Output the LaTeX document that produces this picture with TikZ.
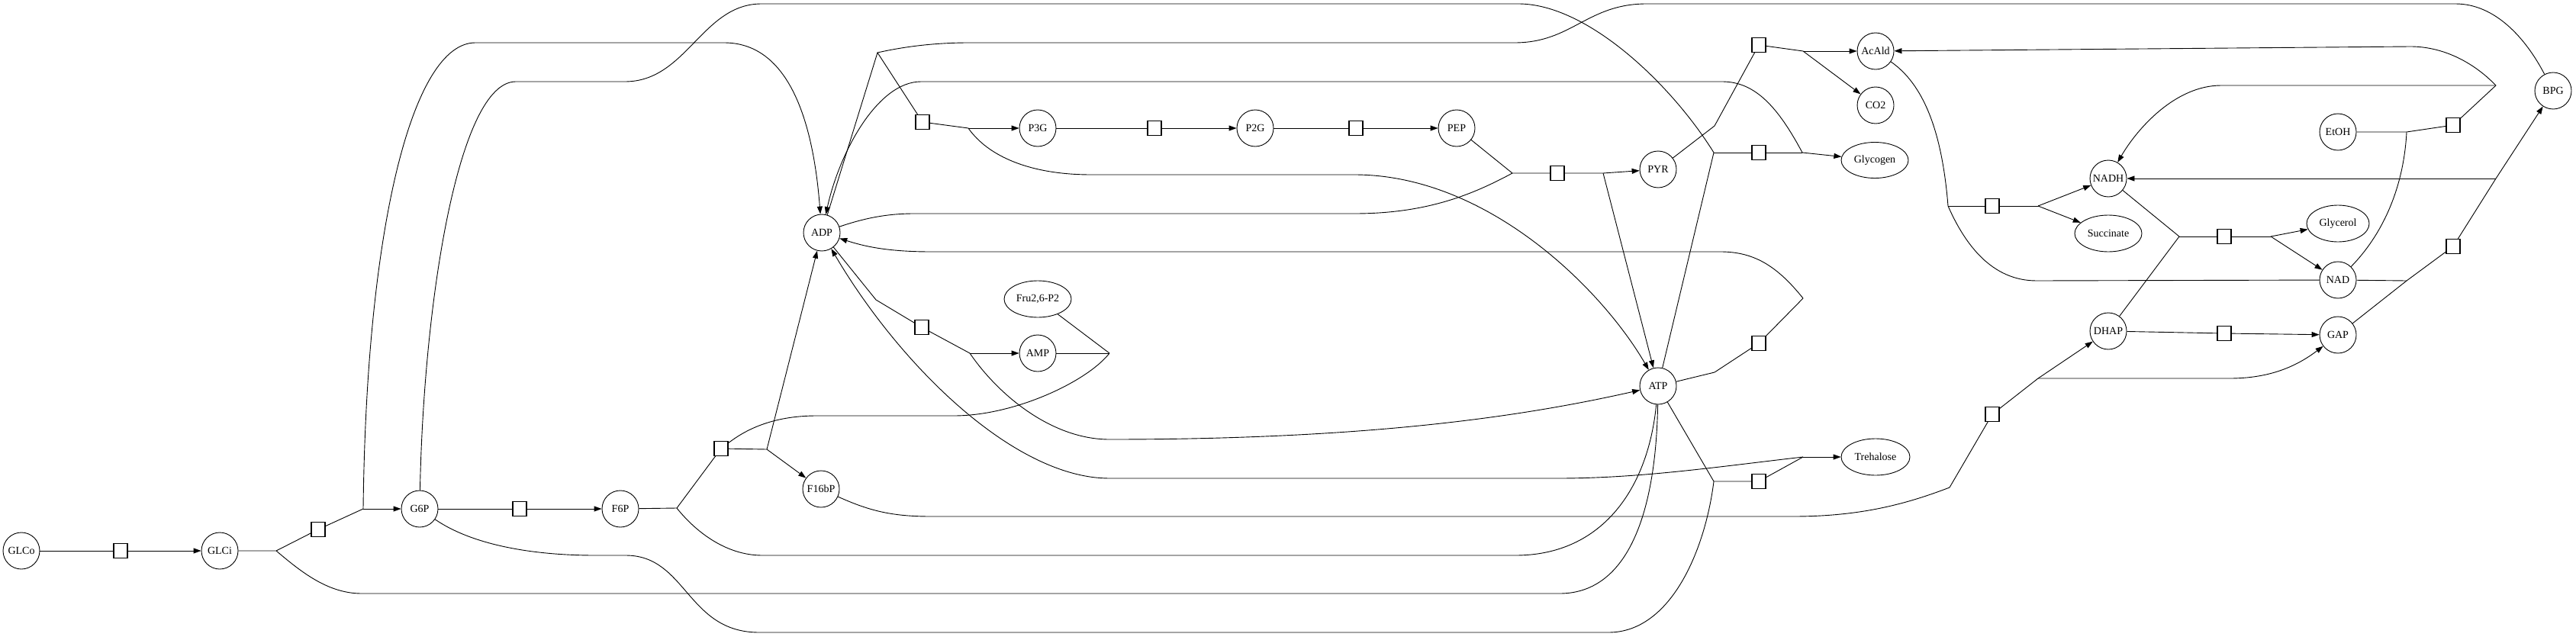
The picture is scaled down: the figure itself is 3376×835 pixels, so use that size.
\documentclass[tikz,border=0pt]{standalone}
\usepackage{fontspec}
\setmainfont{Liberation Serif}
\usetikzlibrary{shapes.geometric,arrows.meta}
\newcommand\lbl[1]{\makebox[0pt]{#1}}
\begin{document}
\begin{tikzpicture}[x=1pt,y=-1pt,line width=0.9pt,
  sp/.style={draw,ellipse,minimum width=48pt,minimum height=48pt,inner sep=1pt,font=\fontsize{14}{16}\selectfont},
  rx/.style={draw,rectangle,minimum width=18pt,minimum height=19pt,inner sep=0pt,line width=1.1pt},
  ar/.style={-{Triangle[length=10pt,width=7pt]}}]
\useasboundingbox (0,0) rectangle (3376,835);
% species
\node[sp] (GLCo) at (28,722) {\lbl{GLCo}};
\node[sp] (GLCi) at (288,722) {\lbl{GLCi}};
\node[sp] (G6P) at (550,667) {\lbl{G6P}};
\node[sp] (F6P) at (813,667) {\lbl{F6P}};
\node[sp] (F16bP) at (1076,641) {\lbl{F16bP}};
\node[sp] (ADP) at (1077,305) {\lbl{ADP}};
\node[sp,minimum width=88pt] (Fru) at (1360,392) {\lbl{Fru2,6-P2}};
\node[sp] (AMP) at (1360,463) {\lbl{AMP}};
\node[sp] (P3G) at (1360,168) {\lbl{P3G}};
\node[sp] (P2G) at (1645,168) {\lbl{P2G}};
\node[sp] (PEP) at (1909,168) {\lbl{PEP}};
\node[sp] (PYR) at (2173,222) {\lbl{PYR}};
\node[sp] (ATP) at (2173,506) {\lbl{ATP}};
\node[sp] (AcAld) at (2458,67) {\lbl{AcAld}};
\node[sp] (CO2) at (2458,138) {\lbl{CO2}};
\node[sp,minimum width=88pt,minimum height=47pt] (Glycogen) at (2457,210) {\lbl{Glycogen}};
\node[sp,minimum width=90pt] (Trehalose) at (2458,599) {\lbl{Trehalose}};
\node[sp] (NADH) at (2763,234) {\lbl{NADH}};
\node[sp,minimum width=88pt] (Succinate) at (2763,306) {\lbl{Succinate}};
\node[sp] (DHAP) at (2763,434) {\lbl{DHAP}};
\node[sp] (EtOH) at (3064,173) {\lbl{EtOH}};
\node[sp,minimum width=82pt] (Glycerol) at (3064,293) {\lbl{Glycerol}};
\node[sp] (NAD) at (3064,367) {\lbl{NAD}};
\node[sp] (GAP) at (3064,439) {\lbl{GAP}};
\node[sp] (BPG) at (3346,119) {\lbl{BPG}};
% reaction boxes
\node[rx] (bGLT) at (158,722) {};
\node[rx] (bHK) at (417,694) {};
\node[rx] (bPGI) at (681,667) {};
\node[rx] (bPFK) at (945,588) {};
\node[rx] (bADK) at (1208,429) {};
\node[rx] (bPGK) at (1209,160) {};
\node[rx] (bGPM) at (1513,168) {};
\node[rx] (bENO) at (1777,168) {};
\node[rx] (bPYK) at (2041,227) {};
\node[rx] (bPDC) at (2305,59) {};
\node[rx] (bGLY) at (2305,200) {};
\node[rx] (bATPase) at (2305,450) {};
\node[rx] (bTRE) at (2305,631) {};
\node[rx] (bALD) at (2611,543) {};
\node[rx] (bSUC) at (2611,270) {};
\node[rx] (bTPI) at (2915,437) {};
\node[rx] (bG3P) at (2915,310) {};
\node[rx] (bADH) at (3215,164) {};
\node[rx] (bGAPDH) at (3215,323) {};
% junctions
\coordinate (jHK1) at (362,722);
\coordinate (jHK2) at (476,667);
\coordinate (jPFK1) at (887,666);
\coordinate (jPFK2) at (1005,589);
\coordinate (jMod) at (1454,463);
\coordinate (jADK1) at (1148,393);
\coordinate (jADK2) at (1271,463);
\coordinate (jPGK1) at (1150,69);
\coordinate (jPGK2) at (1269,168);
\coordinate (jPYK1) at (1982,227);
\coordinate (jPYK2) at (2101,227);
\coordinate (jPDC1) at (2247,165);
\coordinate (jPDC2) at (2363,67);
\coordinate (jGLY1) at (2246,200);
\coordinate (jGLY2) at (2362,200);
\coordinate (jATPase1) at (2247,488);
\coordinate (jATPase2) at (2363,391);
\coordinate (jTRE1) at (2246,631);
\coordinate (jTRE2) at (2363,599);
\coordinate (jALD1) at (2555,639);
\coordinate (jALD2) at (2671,496);
\coordinate (jSUC1) at (2553,270);
\coordinate (jSUC2) at (2671,270);
\coordinate (jG3P1) at (2856,310);
\coordinate (jG3P2) at (2976,310);
\coordinate (jADH1) at (3154,173);
\coordinate (jADH2) at (3271,112);
\coordinate (jGAP1) at (3154,368);
\coordinate (jGAP2) at (3271,234);
% GLT
\draw (GLCo) -- (bGLT);
\draw[ar] (bGLT) -- (GLCi);
% HK
\draw (GLCi) -- (jHK1) -- (bHK) -- (jHK2);
\draw[ar] (jHK2) -- (G6P);
\draw[ar] (jHK2) .. controls (480,300) and (540,56) .. (623,56) -- (949,56) .. controls (1030,56) and (1065,150) .. (ADP);
\draw (ATP) .. controls (2170,680) and (2130,778) .. (2044,778) -- (474,778) .. controls (430,778) and (395,750) .. (jHK1);
% PGI
\draw (G6P) -- (bPGI);
\draw[ar] (bPGI) -- (F6P);
% PFK
\draw (F6P) -- (jPFK1) -- (bPFK) -- (jPFK2);
\draw[ar] (jPFK2) -- (F16bP);
\draw[ar] (jPFK2) -- (ADP);
\draw (ATP) .. controls (2160,640) and (2100,728) .. (1986,728) -- (999,728) .. controls (950,728) and (910,695) .. (jPFK1);
\draw (AMP) -- (jMod);
\draw (Fru) -- (jMod);
\draw (jMod) .. controls (1425,500) and (1330,545) .. (1250,545) -- (1070,545) .. controls (1010,545) and (975,565) .. (bPFK);
% ADK
\draw (ADP) -- (jADK1) -- (bADK) -- (jADK2);
\draw[ar] (jADK2) -- (AMP);
\draw[ar] (jADK2) .. controls (1310,520) and (1380,576) .. (1454,576) .. controls (1800,576) and (2000,545) .. (ATP);
% PGK
\draw (ADP) -- (jPGK1) -- (bPGK) -- (jPGK2);
\draw[ar] (jPGK2) -- (P3G);
\draw[ar] (jPGK2) .. controls (1295,205) and (1350,229) .. (1430,229) -- (1775,229) .. controls (1950,229) and (2100,380) .. (ATP);
\draw (BPG) .. controls (3310,50) and (3270,5) .. (3218,5) -- (2158,5) .. controls (2080,5) and (2060,56) .. (1985,56) -- (1270,56) .. controls (1230,56) and (1190,60) .. (jPGK1);
% GPM, ENO
\draw (P3G) -- (bGPM);
\draw[ar] (bGPM) -- (P2G);
\draw (P2G) -- (bENO);
\draw[ar] (bENO) -- (PEP);
% PYK
\draw (PEP) -- (jPYK1) -- (bPYK) -- (jPYK2);
\draw[ar] (jPYK2) -- (PYR);
\draw[ar] (jPYK2) -- (ATP);
\draw (ADP) .. controls (1130,287) and (1160,280) .. (1198,280) -- (1775,280) .. controls (1870,280) and (1930,255) .. (jPYK1);
% PDC
\draw (PYR) -- (jPDC1) -- (bPDC) -- (jPDC2);
\draw[ar] (jPDC2) -- (AcAld);
\draw[ar] (jPDC2) -- (CO2);
% Glycogen
\draw (G6P) .. controls (555,400) and (600,107) .. (676,107) -- (819,107) .. controls (900,107) and (920,5) .. (998,5) -- (1990,5) .. controls (2080,5) and (2190,110) .. (jGLY1);
\draw (ATP) -- (jGLY1);
\draw (jGLY1) -- (bGLY) -- (jGLY2);
\draw[ar] (jGLY2) -- (Glycogen);
\draw[ar] (jGLY2) .. controls (2330,140) and (2300,107) .. (2257,107) -- (1207,107) .. controls (1150,107) and (1100,200) .. (ADP);
% Trehalose
\draw (G6P) .. controls (620,715) and (700,728) .. (780,728) -- (820,728) .. controls (900,728) and (900,829) .. (995,829) -- (2108,829) .. controls (2190,829) and (2235,720) .. (jTRE1);
\draw (ATP) -- (jTRE1);
\draw (jTRE1) -- (bTRE) -- (jTRE2);
\draw[ar] (jTRE2) -- (Trehalose);
\draw[ar] (jTRE2) .. controls (2250,612) and (2150,627) .. (2042,627) -- (1454,627) .. controls (1330,627) and (1180,480) .. (ADP);
% ATPase
\draw (ATP) -- (jATPase1) -- (bATPase) -- (jATPase2);
\draw[ar] (jATPase2) .. controls (2330,350) and (2300,330) .. (2255,330) -- (1220,330) .. controls (1160,330) and (1130,322) .. (ADP);
% ALD
\draw (F16bP) .. controls (1140,670) and (1170,677) .. (1220,677) -- (2350,677) .. controls (2440,677) and (2500,660) .. (jALD1);
\draw (jALD1) -- (bALD) -- (jALD2);
\draw[ar] (jALD2) -- (DHAP);
\draw[ar] (jALD2) -- (2922,496) .. controls (2975,496) and (3010,480) .. (GAP);
% TPI
\draw (DHAP) -- (bTPI);
\draw[ar] (bTPI) -- (GAP);
% G3PDH
\draw (DHAP) -- (jG3P1);
\draw (NADH) -- (jG3P1);
\draw (jG3P1) -- (bG3P) -- (jG3P2);
\draw[ar] (jG3P2) -- (Glycerol);
\draw[ar] (jG3P2) -- (NAD);
% succinate
\draw (AcAld) .. controls (2520,110) and (2545,170) .. (jSUC1);
\draw (NAD) -- (2669,368) .. controls (2610,368) and (2575,320) .. (jSUC1);
\draw (jSUC1) -- (bSUC) -- (jSUC2);
\draw[ar] (jSUC2) -- (NADH);
\draw[ar] (jSUC2) -- (Succinate);
% ADH
\draw (EtOH) -- (jADH1) -- (bADH) -- (jADH2);
\draw (NAD) .. controls (3120,310) and (3150,250) .. (jADH1);
\draw[ar] (jADH2) .. controls (3240,80) and (3200,61) .. (3159,61) -- (AcAld);
\draw[ar] (jADH2) -- (2911,112) .. controls (2850,112) and (2800,170) .. (NADH);
% GAPDH
\draw (GAP) -- (jGAP1);
\draw (NAD) -- (jGAP1);
\draw (jGAP1) -- (bGAPDH) -- (jGAP2);
\draw[ar] (jGAP2) -- (BPG);
\draw[ar] (jGAP2) -- (NADH);
\end{tikzpicture}
\end{document}
